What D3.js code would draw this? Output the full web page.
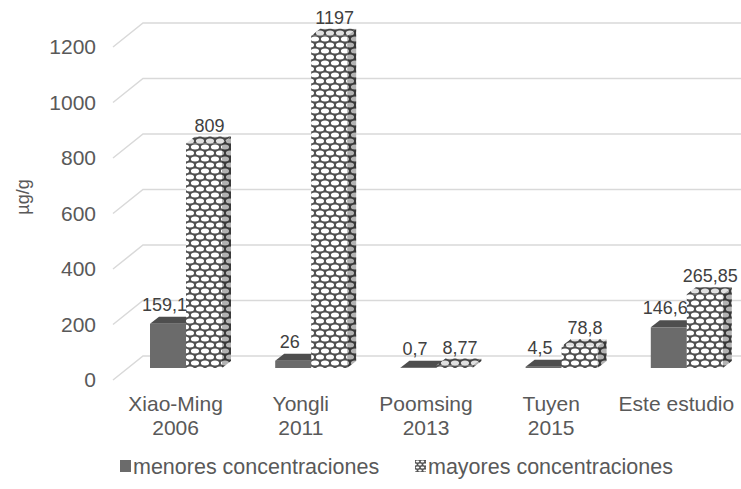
<!DOCTYPE html>
<html>
<head>
<meta charset="utf-8">
<script src="https://cdn.jsdelivr.net/npm/d3@7"></script>
<style>
  body { margin: 0; background: #fff; }
  text { font-family: "Liberation Sans", Arial, sans-serif; }
</style>
</head>
<body>
<svg id="chart" width="741" height="489"></svg>
<script>
// data
var categories = ["Xiao-Ming", "Yongli", "Poomsing", "Tuyen", "Este estudio"];
var years = ["2006", "2011", "2013", "2015", ""];
var seriesNames = ["menores concentraciones", "mayores concentraciones"];
var menores = [159.1, 26, 0.7, 4.5, 146.6];
var mayores = [809, 1197, 8.77, 78.8, 265.85];
var yTicks = [0, 200, 400, 600, 800, 1000, 1200];

// comma as decimal mark
var fmt = d3.formatLocale({decimal: ",", thousands: ".", grouping: [3], currency: ["", ""]}).format("");

var svg = d3.select("#chart");

// 3d offsets: side wall depth and bar depth
var wallDX = 30, wallDY = 24,
    barDX = 9, barDY = 7;

var y = d3.scaleLinear().domain([0, 1200]).range([356, 23]);
var x = d3.scaleBand().domain(categories).range([143, 769]);
var xs = d3.scaleBand().domain(seriesNames).range([0, 72]);

// hatch pattern for the "mayores" bars
var defs = svg.append("defs");
function addPattern(id, shade) {
  var p = defs.append("pattern")
      .attr("id", id)
      .attr("patternUnits", "userSpaceOnUse")
      .attr("width", 10).attr("height", 12);
  p.append("rect").attr("width", 10).attr("height", 12).attr("fill", "#505050");
  [[5, 3], [0, 9], [10, 9]].forEach(function(c) {
    p.append("ellipse").attr("cx", c[0]).attr("cy", c[1])
      .attr("rx", 4.1).attr("ry", 2.5).attr("fill", "#fff");
  });
  if (shade > 0) p.append("rect").attr("width", 10).attr("height", 12)
      .attr("fill", "#000").attr("opacity", shade);
}
addPattern("hatch", 0);
addPattern("hatchTop", 0.12);
addPattern("hatchSide", 0.3);
defs.append("pattern")
    .attr("id", "hatchSmall")
    .attr("patternUnits", "userSpaceOnUse")
    .attr("width", 5).attr("height", 6)
  .call(function(p) {
    p.append("rect").attr("width", 5).attr("height", 6).attr("fill", "#555");
    p.append("ellipse").attr("cx", 2.5).attr("cy", 1.5).attr("rx", 1.8).attr("ry", 1.1).attr("fill", "#fff");
    p.append("ellipse").attr("cx", 0).attr("cy", 4.5).attr("rx", 1.8).attr("ry", 1.1).attr("fill", "#fff");
    p.append("ellipse").attr("cx", 5).attr("cy", 4.5).attr("rx", 1.8).attr("ry", 1.1).attr("fill", "#fff");
  });

// gridlines: side wall diagonal + back wall line
svg.append("g").selectAll("polyline")
  .data(yTicks)
  .enter().append("polyline")
    .attr("points", function(d) {
      var yy = y(d);
      return [[x.range()[0] - wallDX, yy + wallDY], [x.range()[0], yy], [741, yy]].join(" ");
    })
    .attr("fill", "none")
    .attr("stroke", "#d9d9d9")
    .attr("stroke-width", 1.5);

// tick labels on the front edge of the side wall
svg.append("g").selectAll("text")
  .data(yTicks)
  .enter().append("text")
    .attr("x", 96)
    .attr("y", function(d) { return y(d) + wallDY; })
    .attr("dy", "0.35em")
    .attr("text-anchor", "end")
    .attr("font-size", 21)
    .attr("fill", "#595959")
    .text(function(d) { return d; });

// axis title
svg.append("text")
    .attr("transform", "translate(29,197) rotate(-90)")
    .attr("text-anchor", "middle")
    .attr("font-size", 18)
    .attr("fill", "#595959")
    .text("µg/g");

// bars sit half way into the floor depth
var midDX = wallDX / 2, midDY = wallDY / 2;
function barX(cat, key) { return x(cat) - midDX + 22 + xs(key); }

function drawBar(g, x0, v, fills) {
  var w = xs.bandwidth(),
      yt = y(v) + midDY,
      yb = y(0) + midDY;
  g.append("rect")
      .attr("x", x0).attr("y", yt)
      .attr("width", w).attr("height", yb - yt)
      .attr("fill", fills[0]);
  g.append("polygon")
      .attr("points", [[x0 + w, yt], [x0 + w + barDX, yt - barDY], [x0 + w + barDX, yb - barDY], [x0 + w, yb]].join(" "))
      .attr("fill", fills[2]);
  g.append("polygon")
      .attr("points", [[x0, yt], [x0 + w, yt], [x0 + w + barDX, yt - barDY], [x0 + barDX, yt - barDY]].join(" "))
      .attr("fill", fills[1]);
}

var bars = svg.append("g");
categories.forEach(function(cat, i) {
  var g = bars.append("g");
  var xa = barX(cat, seriesNames[0]),
      xb = barX(cat, seriesNames[1]),
      w = xs.bandwidth();
  drawBar(g, xa, menores[i], ["#6b6b6b", "#4e4e4e", "#575757"]);
  drawBar(g, xb, mayores[i], ["url(#hatch)", "url(#hatchTop)", "url(#hatchSide)"]);

  g.append("text")
      .attr("x", xa + w / 2 + barDX / 2 - 8)
      .attr("y", y(menores[i]) + midDY - barDY - 6)
      .attr("text-anchor", "middle")
      .attr("font-size", 18)
      .attr("fill", "#404040")
      .text(fmt(menores[i]));
  g.append("text")
      .attr("x", xb + w / 2 + barDX / 2 + 1)
      .attr("y", y(mayores[i]) + midDY - barDY - 5)
      .attr("text-anchor", "middle")
      .attr("font-size", 18)
      .attr("fill", "#404040")
      .text(fmt(mayores[i]));
});

// category labels along the front edge of the floor
var cl = svg.append("g").selectAll("text")
  .data(categories)
  .enter().append("text")
    .attr("x", function(d) { return x(d) - wallDX + x.bandwidth() / 2; })
    .attr("y", 411)
    .attr("text-anchor", "middle")
    .attr("font-size", 21)
    .attr("fill", "#595959");
cl.append("tspan").text(function(d) { return d; });
cl.append("tspan")
    .attr("x", function(d) { return x(d) - wallDX + x.bandwidth() / 2; })
    .attr("dy", 24)
    .text(function(d, i) { return years[i]; });

// legend
var legendX = [120, 415];
var legend = svg.append("g").selectAll("g")
  .data(seriesNames)
  .enter().append("g")
    .attr("transform", function(d, i) { return "translate(" + legendX[i] + ",466)"; });
legend.append("rect")
    .attr("x", 0).attr("y", -6)
    .attr("width", 11).attr("height", 12)
    .attr("fill", function(d, i) { return i === 0 ? "#6b6b6b" : "url(#hatchSmall)"; });
legend.append("text")
    .attr("x", 13)
    .attr("dy", "0.35em")
    .attr("font-size", 21.5)
    .attr("fill", "#595959")
    .text(function(d) { return d; });
</script>
</body>
</html>
